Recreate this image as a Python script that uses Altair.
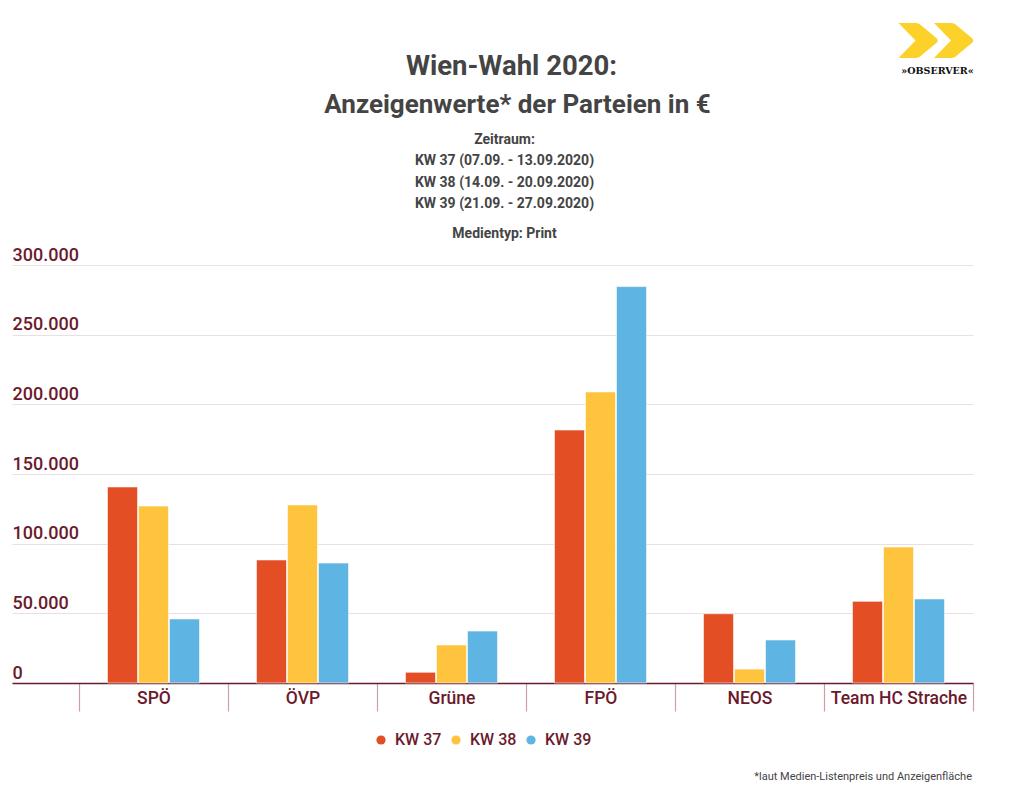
import altair as alt
import pandas as pd

# ---- data ----
parties = ["SPÖ", "ÖVP", "Grüne", "FPÖ", "NEOS", "Team HC Strache"]
weeks = ["KW 37", "KW 38", "KW 39"]
kw37 = [140700, 88300, 7700, 181600, 49700, 58600]
kw38 = [127000, 127800, 27300, 208900, 10000, 97600]
kw39 = [46000, 86100, 37300, 284500, 30900, 60300]
y_ticks = [0, 50000, 100000, 150000, 200000, 250000, 300000]

title_lines = ["Wien-Wahl 2020:", "Anzeigenwerte* der Parteien in €"]
subtitle_lines = ["Zeitraum:", "KW 37 (07.09. - 13.09.2020)", "KW 38 (14.09. - 20.09.2020)",
                  "KW 39 (21.09. - 27.09.2020)", "Medientyp: Print"]
footnote = "*laut Medien-Listenpreis und Anzeigenfläche"
logo_text = "»OBSERVER«"

rows = []
for i, p in enumerate(parties):
    for w, vals in zip(weeks, [kw37, kw38, kw39]):
        rows.append({"Partei": p, "Woche": w, "Wert": vals[i]})
df = pd.DataFrame(rows)

colors = ["#E34E25", "#FEC43E", "#5EB5E3"]
maroon = "#6B1A2C"
gray = "#444444"
W, H = 961, 418

bars = alt.Chart(df).mark_bar(stroke="white", strokeWidth=0.6).encode(
    x=alt.X("Partei:N", sort=parties, title=None,
            scale=alt.Scale(paddingInner=0, paddingOuter=0.2248, align=1),
            axis=alt.Axis(labelAngle=0, labelFont="Roboto", labelFontSize=17.5, labelFontWeight=500,
                          labelColor=maroon, labelBaseline="alphabetic", labelPadding=-8,
                          tickBand="extent", tickSize=28, tickColor="#C9A0A8", tickWidth=1.2,
                          domainColor=maroon, domainWidth=1.6, grid=False)),
    xOffset=alt.XOffset("Woche:N", sort=weeks,
                        scale=alt.Scale(paddingInner=0.03, paddingOuter=0.918)),
    y=alt.Y("Wert:Q", title=None,
            scale=alt.Scale(domain=[0, 300000], nice=False),
            axis=alt.Axis(values=y_ticks, format=",.0f", labelExpr="replace(datum.label, /,/g, '.')",
                          labelAlign="left", labelBaseline="alphabetic", labelPadding=0,
                          labelOffset=-5, labelFont="Roboto", labelFontSize=18, labelFontWeight=500,
                          labelColor=maroon, ticks=False, domain=False,
                          gridColor="#EADFE2", gridWidth=1)),
    color=alt.Color("Woche:N", sort=weeks, scale=alt.Scale(domain=weeks, range=colors),
                    legend=alt.Legend(title=None, orient="none", direction="horizontal",
                                      legendX=361, legendY=467, symbolType="circle",
                                      symbolSize=85, symbolStrokeWidth=0, labelFont="Roboto",
                                      labelFontSize=16, labelFontWeight=500, labelColor=maroon,
                                      labelOffset=6, columnPadding=6)),
)

one = alt.Data(values=[{"a": 1}])


def text_layer(txt, x, y, size, weight="bold", color=gray, align="center", font="Roboto"):
    return alt.Chart(one).mark_text(
        text=txt, font=font, fontSize=size, fontWeight=weight, color=color,
        align=align, baseline="alphabetic"
    ).encode(x=alt.value(x), y=alt.value(y))


# plot origin is at page (12, 265)
layers = [bars]
layers.append(text_layer(title_lines[0], 499.5, 75 - 265, 27.5))
layers.append(text_layer(title_lines[1], 505.5, 113 - 265, 26))
sub_y = [144, 165, 186.5, 208, 237.5]
for t, yy in zip(subtitle_lines, sub_y):
    layers.append(text_layer(t, 492.5, yy - 265, 14))
layers.append(text_layer(footnote, 960, 780 - 265, 11, weight="normal", align="right"))

# logo
chevron = ("M -1 -0.875 L -0.1 -0.875 Q 0.05 -0.875 0.2 -0.7 L 0.92 -0.1 Q 1 0 0.92 0.1 "
           "L 0.2 0.7 Q 0.05 0.875 -0.1 0.875 L -1 0.875 L -0.15 0 Z")
for cx in [906.5, 942]:
    layers.append(alt.Chart(one).mark_point(
        shape=chevron, filled=True, color="#FCD12A", opacity=1, size=1600, strokeWidth=0
    ).encode(x=alt.value(cx), y=alt.value(40.5 - 265)))
layers.append(text_layer(logo_text, 925.5, 74 - 265, 9.5, color="#111111", font="DejaVu Serif"))

chart = alt.layer(*layers).properties(
    width=W, height=H,
    background="white",
    autosize=alt.AutoSizeParams(type="none"),
    padding={"left": 4, "top": 257, "right": 40, "bottom": 110},
).configure_view(stroke=None)

chart.save("out.html", embed_options={"renderer": "svg", "actions": False})
